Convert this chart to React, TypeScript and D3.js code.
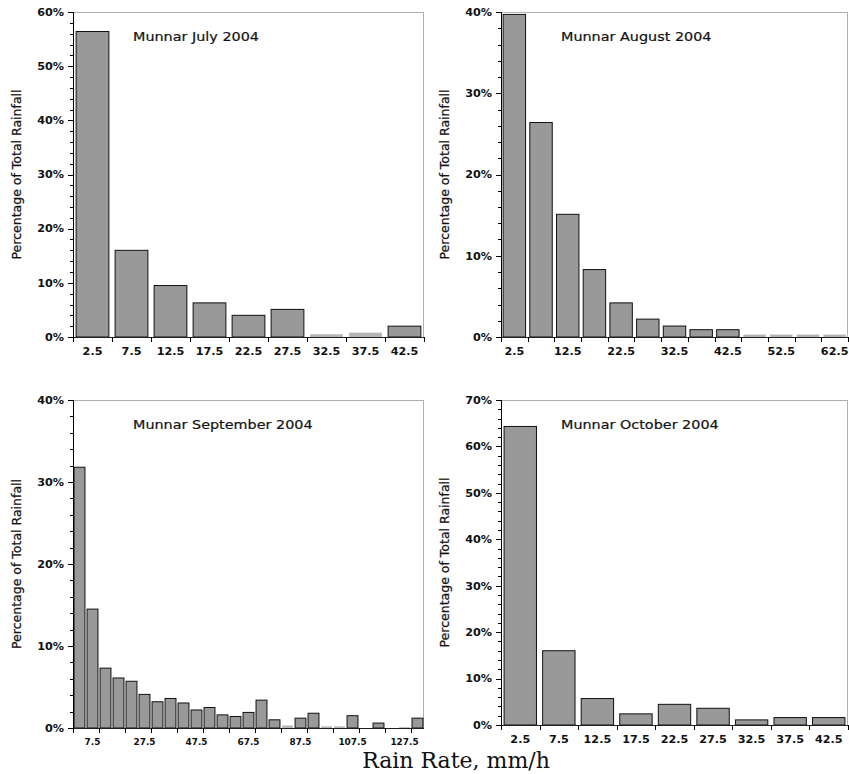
import React from 'react';
import * as d3 from 'd3';

const julyRates = [2.5, 7.5, 12.5, 17.5, 22.5, 27.5, 32.5, 37.5, 42.5];
const julyPct = [56.4, 16.0, 9.5, 6.3, 4.0, 5.1, 0.5, 0.8, 2.0];

const augustRates = [2.5, 7.5, 12.5, 17.5, 22.5, 27.5, 32.5, 37.5, 42.5, 47.5, 52.5, 57.5, 62.5];
const augustPct = [39.7, 26.4, 15.1, 8.3, 4.2, 2.2, 1.35, 0.9, 0.9, 0.3, 0.3, 0.3, 0.3];

const septemberRates = [
  2.5, 7.5, 12.5, 17.5, 22.5, 27.5, 32.5, 37.5, 42.5, 47.5, 52.5, 57.5, 62.5, 67.5,
  72.5, 77.5, 82.5, 87.5, 92.5, 97.5, 102.5, 107.5, 112.5, 117.5, 122.5, 127.5, 132.5,
];
const septemberPct = [
  31.8, 14.5, 7.3, 6.1, 5.7, 4.1, 3.2, 3.6, 3.05, 2.2, 2.5, 1.6, 1.4, 1.9,
  3.4, 1.0, 0.3, 1.2, 1.8, 0.2, 0.2, 1.5, 0, 0.6, 0, 0.1, 1.2,
];

const octoberRates = [2.5, 7.5, 12.5, 17.5, 22.5, 27.5, 32.5, 37.5, 42.5];
const octoberPct = [64.3, 16.0, 5.7, 2.4, 4.45, 3.6, 1.1, 1.6, 1.6];

const titles = ['Munnar July 2004', 'Munnar August 2004', 'Munnar September 2004', 'Munnar October 2004'];
const yMaxima = [60, 40, 40, 70];
const yLabel = 'Percentage of Total Rainfall';
const xLabel = 'Rain Rate, mm/h';

// layout (positions / styles)
const frames = [
  { left: 73, top: 12, right: 424, bottom: 337 },
  { left: 501, top: 12, right: 848, bottom: 337 },
  { left: 73, top: 400, right: 424, bottom: 728 },
  { left: 501, top: 400, right: 848, bottom: 725 },
];
const tickEvery = [1, 1, 2, 1];
const labelEvery = [1, 2, 4, 1];
const labelStart = [0, 0, 1, 0];
const tickFont = [10, 10, 8.5, 10];

const SX = 1.12;
const SANS = 'DejaVu Sans, sans-serif';

function Panel({ frame, rates, pct, yMax, title, tEvery, lEvery, lStart, tFont }) {
  const { left, top, right, bottom } = frame;
  const bw = rates[1] - rates[0];
  const x = d3.scaleLinear().domain([rates[0] - bw / 2, rates[rates.length - 1] + bw / 2]).range([left, right]);
  const y = d3.scaleLinear().domain([0, yMax]).range([bottom, top]);
  const binPx = x(rates[0] + bw / 2) - x(rates[0] - bw / 2);
  const majors = d3.range(0, yMax + 0.001, 10);
  const minors = d3.range(0, yMax + 0.001, 2).filter((v) => v % 10 !== 0);
  const boundaries = d3.range(0, rates.length + 1).map((i) => rates[0] - bw / 2 + i * bw);

  return (
    <g>
      {/* frame */}
      <line x1={left} x2={right} y1={top + 0.5} y2={top + 0.5} stroke="#b0b0b0" strokeWidth={1} />
      <line x1={right - 0.5} x2={right - 0.5} y1={top} y2={bottom} stroke="#b0b0b0" strokeWidth={1} />
      {/* bars */}
      {rates.map((r, i) => {
        const x0 = x(r - bw / 2) + binPx * 0.08;
        const w = binPx * 0.84;
        const yt = y(pct[i]);
        const h = bottom - yt;
        if (pct[i] <= 0) return null;
        if (h < 4.6) {
          return <rect key={i} x={x0} y={yt} width={w} height={h} fill="#b4b4b4" />;
        }
        return (
          <rect key={i} x={x0} y={yt} width={w} height={h} fill="#999999" stroke="#111" strokeWidth={1} />
        );
      })}
      {/* axes */}
      <line x1={left + 0.5} x2={left + 0.5} y1={top} y2={bottom} stroke="#000" strokeWidth={1} />
      <line x1={left} x2={right} y1={bottom + 0.5} y2={bottom + 0.5} stroke="#222" strokeWidth={1} />
      {majors.map((v) => (
        <g key={'M' + v}>
          <line x1={left - 5} x2={left} y1={Math.round(y(v)) + 0.5} y2={Math.round(y(v)) + 0.5} stroke="#000" />
          <text
            transform={`translate(${left - 9},${y(v) + 3.8}) scale(${SX},1)`}
            textAnchor="end"
            fontFamily={SANS}
            fontWeight="bold"
            fontSize={10}
            fill="#111"
          >
            {v + '%'}
          </text>
        </g>
      ))}
      {minors.map((v) => (
        <line key={'m' + v} x1={left - 3} x2={left} y1={Math.round(y(v)) + 0.5} y2={Math.round(y(v)) + 0.5} stroke="#000" />
      ))}
      {boundaries.map((b, i) =>
        i % tEvery === 0 ? (
          <line key={'xt' + i} x1={Math.round(x(b)) + 0.5} x2={Math.round(x(b)) + 0.5} y1={bottom} y2={bottom + 5} stroke="#000" />
        ) : null
      )}
      {rates.map((r, i) =>
        i >= lStart && (i - lStart) % lEvery === 0 ? (
          <text
            key={'xl' + i}
            transform={`translate(${x(r)},${bottom + (tFont < 10 ? 16.5 : 18)}) scale(${tFont < 10 ? 1.05 : SX},1)`}
            textAnchor="middle"
            fontFamily={SANS}
            fontWeight="bold"
            fontSize={tFont}
            fill="#111"
          >
            {String(r)}
          </text>
        ) : null
      )}
      {/* y label */}
      <text
        transform={`translate(${left - 52},${(top + bottom) / 2}) rotate(-90)`}
        textAnchor="middle"
        fontFamily={SANS}
        fontSize={12.5}
        fill="#111"
        stroke="#111"
        strokeWidth={0.25}
      >
        {yLabel}
      </text>
      {/* title */}
      <text
        transform={`translate(${left + 60},${top + 29}) scale(1.15,1)`}
        fontFamily={SANS}
        fontSize={12.5}
        fill="#111"
        stroke="#111"
        strokeWidth={0.2}
      >
        {title}
      </text>
    </g>
  );
}

export default function App() {
  const data = [
    [julyRates, julyPct],
    [augustRates, augustPct],
    [septemberRates, septemberPct],
    [octoberRates, octoberPct],
  ];
  return (
    <svg
      width={849}
      height={774}
      style={{ position: 'absolute', left: 0, top: 0, background: '#fff' }}
    >
      <rect x={0} y={0} width={849} height={774} fill="#fff" />
      {data.map(([rates, pct], i) => (
        <Panel
          key={i}
          frame={frames[i]}
          rates={rates}
          pct={pct}
          yMax={yMaxima[i]}
          title={titles[i]}
          tEvery={tickEvery[i]}
          lEvery={labelEvery[i]}
          lStart={labelStart[i]}
          tFont={tickFont[i]}
        />
      ))}
      <text x={456} y={768} textAnchor="middle" fontFamily="DejaVu Serif, serif" fontSize={22} fill="#111">
        {xLabel}
      </text>
    </svg>
  );
}
